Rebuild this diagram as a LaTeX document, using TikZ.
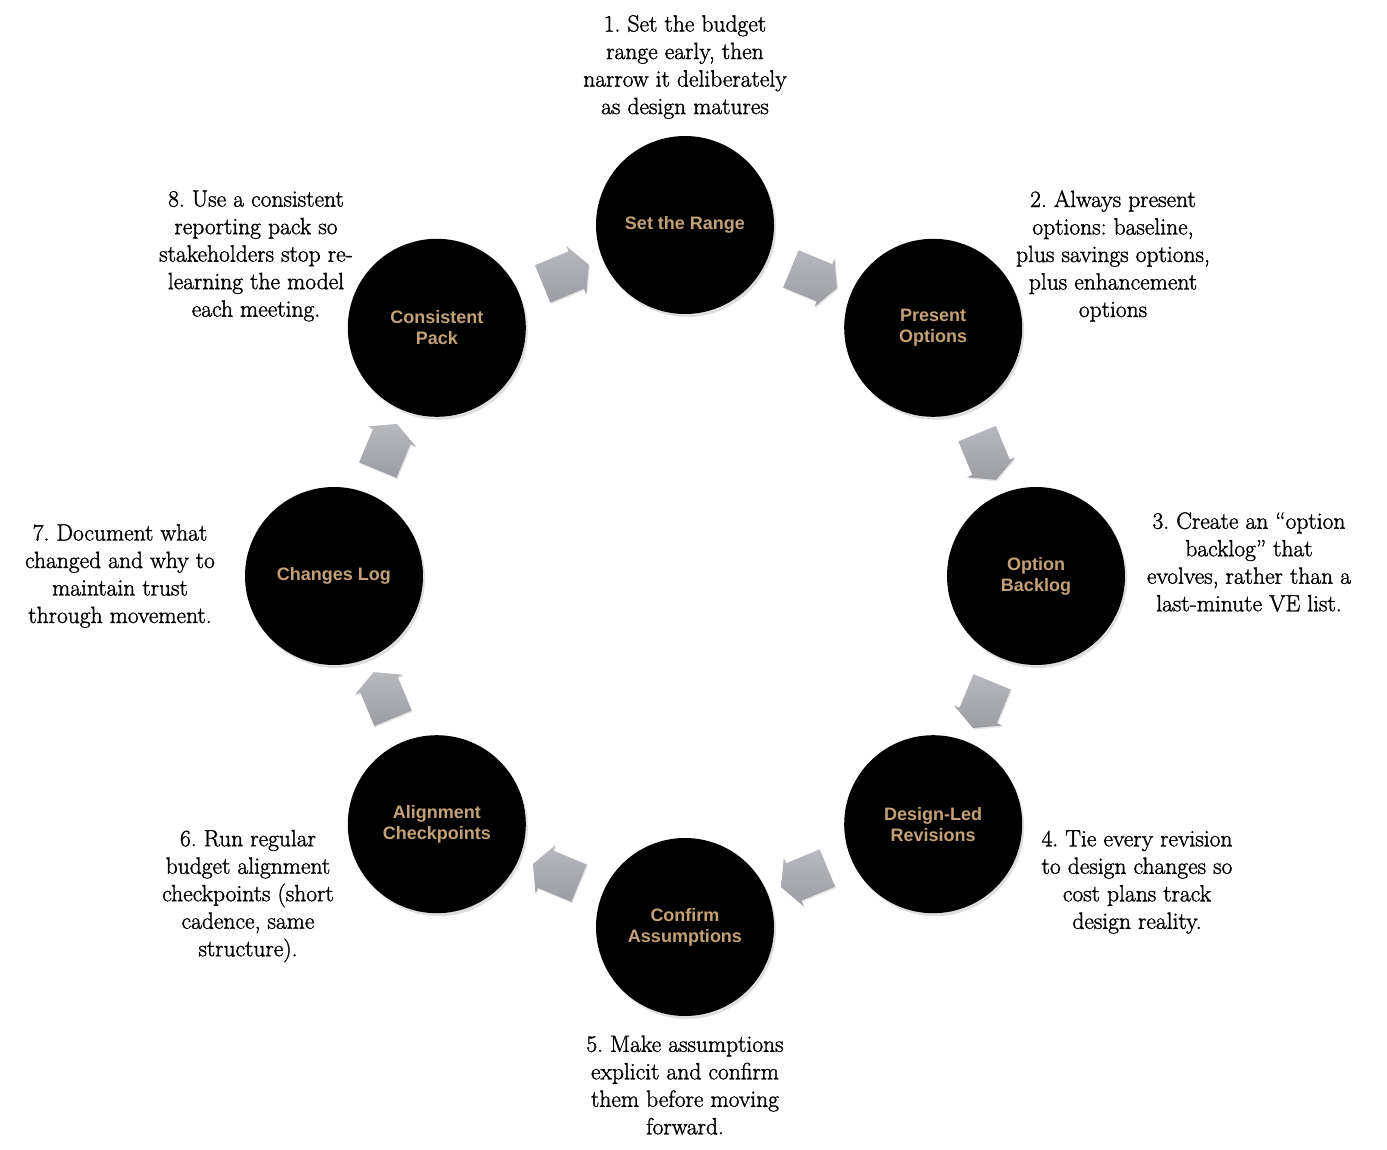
\documentclass[tikz,border=0pt]{standalone}
\usepackage{fontspec}
\usepackage{tikz}
\usetikzlibrary{shapes.arrows, shadows, calc}
\newfontfamily\stepfont{Liberation Sans}
\newfontfamily\notefont{Latin Modern Roman}[Ligatures=TeX, FakeBold=1.4]
\definecolor{tan}{RGB}{196,160,118}
\definecolor{arrowtop}{RGB}{184,185,190}
\definecolor{arrowbot}{RGB}{156,157,162}
\frenchspacing

\begin{document}
\begin{tikzpicture}[
      x=1pt, y=1pt,
      stage/.style={circle, fill=black, minimum size=178pt, inner sep=0pt, align=center,
        text=tan, font=\stepfont\bfseries\fontsize{18}{21}\selectfont,
        drop shadow={opacity=0.25, shadow xshift=2pt, shadow yshift=-3pt}},
      flow/.style={single arrow, draw=none, top color=arrowtop, bottom color=arrowbot,
        inner xsep=0pt, inner ysep=20pt, minimum height=50pt,
        single arrow head extend=6pt, single arrow tip angle=125,
        drop shadow={opacity=0.2, shadow xshift=1pt, shadow yshift=-1.5pt}},
      note/.style={align=center, font=\notefont\fontsize{23.5}{27.5}\selectfont}
    ]
    \useasboundingbox (-685,-573) rectangle (702,576);

    % Nodes
    \node[stage] (range) at (90:351) {Set the Range};
    \node[stage] (options) at (45:351) {Present\\Options};
    \node[stage] (backlog) at (0:351) {Option\\Backlog};
    \node[stage] (revisions) at (-45:351) {Design-Led\\Revisions};
    \node[stage] (confirm) at (-90:351) {Confirm\\Assumptions};
    \node[stage] (align) at (-135:351) {Alignment\\Checkpoints};
    \node[stage] (log) at (180:351) {Changes Log};
    \node[stage] (pack) at (135:351) {Consistent\\Pack};

    % Notes
    \node[note] (note1) at (0,509) {1. Set the budget\\range early, then\\narrow it deliberately\\as design matures};
    \node[note] (note2) at (428,320) {2. Always present\\options: baseline,\\plus savings options,\\plus enhancement\\options};
    \node[note] (note3) at (564,14) {3. Create an ``option\\backlog'' that\\evolves, rather than a\\last-minute VE list.};
    \node[note] (note4) at (452,-306) {4. Tie every revision\\to design changes so\\cost plans track\\design reality.};
    \node[note] (note5) at (0,-509) {5. Make assumptions\\explicit and confirm\\them before moving\\forward.};
    \node[note] (note6) at (-437,-320) {6. Run regular\\budget alignment\\checkpoints (short\\cadence, same\\structure).};
    \node[note] (note7) at (-565,0) {7. Document what\\changed and why to\\maintain trust\\through movement.};
    \node[note] (note8) at (-429,320) {8. Use a consistent\\reporting pack so\\stakeholders stop re-\\learning the model\\each meeting.};

    % Arrows
    \node[flow, rotate=-22.5] (a12) at ($(range)!0.5!(options)$) {};
    \node[flow, rotate=-67.5] (a23) at ($(options)!0.5!(backlog)$) {};
    \node[flow, rotate=-112.5] (a34) at ($(backlog)!0.5!(revisions)$) {};
    \node[flow, rotate=-157.5] (a45) at ($(revisions)!0.5!(confirm)$) {};
    \node[flow, rotate=157.5] (a56) at ($(confirm)!0.5!(align)$) {};
    \node[flow, rotate=112.5] (a67) at ($(align)!0.5!(log)$) {};
    \node[flow, rotate=67.5] (a78) at ($(log)!0.5!(pack)$) {};
    \node[flow, rotate=22.5] (a81) at ($(pack)!0.5!(range)$) {};

\end{tikzpicture}
\end{document}
